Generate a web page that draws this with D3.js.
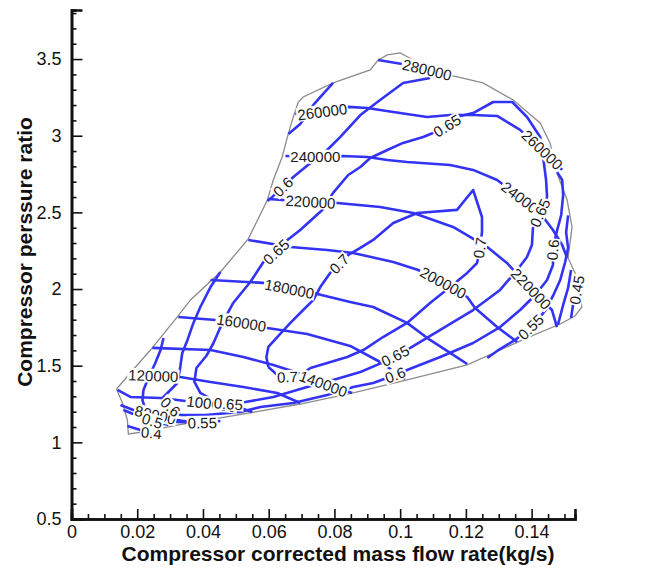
<!DOCTYPE html>
<html>
<head>
<meta charset="utf-8">
<script src="https://cdn.jsdelivr.net/npm/d3@7"></script>
<style>
body { margin: 0; background: #fff; }
svg text { font-family: "Liberation Sans", Arial, sans-serif; }
</style>
</head>
<body>
<svg id="chart" width="649" height="568"></svg>
<script>
// ---- data: [mass flow (kg/s), pressure ratio] ----
const boundary = [[0.0137,1.348],[0.0179,1.452],[0.0240,1.602],[0.0322,1.818],[0.0362,1.929],[0.0453,2.111],
  [0.0538,2.327],[0.0596,2.581],[0.0614,2.711],[0.0641,2.861],[0.0657,2.992],[0.0672,3.103],[0.0690,3.220],
  [0.0705,3.253],[0.0796,3.344],[0.0909,3.429],[0.0933,3.494],[0.0961,3.527],[0.1000,3.540],[0.1040,3.494],
  [0.1161,3.390],[0.1252,3.344],[0.1344,3.233],[0.1426,3.083],[0.1456,2.953],[0.1477,2.757],[0.1508,2.581],
  [0.1523,2.405],[0.1511,2.203],[0.1535,2.092],[0.1553,1.883],[0.1532,1.824],[0.1487,1.772],[0.1386,1.681],
  [0.1204,1.505],[0.1021,1.407],[0.0857,1.322],[0.0696,1.250],[0.0453,1.159],[0.0322,1.113],[0.0219,1.068],
  [0.0173,1.055],[0.0170,1.146],[0.0155,1.257],[0.0137,1.348]];

// speed lines (rpm)
const speed80 = [[0.0149,1.244],[0.0188,1.211],[0.0255,1.178],[0.0322,1.146],[0.0362,1.133]];
const speed100 = [[0.0140,1.342],[0.0179,1.296],[0.0271,1.289],[0.0347,1.270],[0.0426,1.250],[0.0505,1.231],[0.0550,1.198]];
const speed120 = [[0.0173,1.439],[0.0249,1.433],[0.0331,1.426],[0.0423,1.394],[0.0523,1.361],[0.0626,1.322],[0.0696,1.257]];
const speed140 = [[0.0246,1.616],[0.0423,1.602],[0.0523,1.557],[0.0614,1.505],[0.0681,1.459],[0.0766,1.381],[0.0854,1.322]];
const speed160 = [[0.0325,1.818],[0.0438,1.798],[0.0517,1.779],[0.0596,1.746],[0.0717,1.707],[0.0848,1.629],[0.0939,1.524],[0.1015,1.413]];
const speed180 = [[0.0423,2.059],[0.0584,2.040],[0.0663,2.000],[0.0748,1.968],[0.0848,1.916],[0.0918,1.883],[0.1021,1.779],
  [0.1091,1.668],[0.1152,1.583],[0.1204,1.511]];
const speed200 = [[0.0538,2.320],[0.0666,2.274],[0.0778,2.255],[0.0857,2.235],[0.0979,2.176],[0.1055,2.124],[0.1131,2.040],
  [0.1204,1.948],[0.1228,1.876],[0.1295,1.752],[0.1356,1.655]];
const speed220 = [[0.0599,2.587],[0.0727,2.568],[0.0809,2.561],[0.0939,2.535],[0.1040,2.496],[0.1161,2.405],[0.1265,2.274],
  [0.1325,2.170],[0.1398,2.000],[0.1462,1.863],[0.1477,1.752]];
const speed240 = [[0.0651,2.868],[0.0742,2.861],[0.0824,2.868],[0.0900,2.861],[0.0961,2.842],[0.1021,2.829],[0.1152,2.809],
  [0.1222,2.777],[0.1295,2.711],[0.1374,2.581],[0.1426,2.496],[0.1465,2.385],[0.1493,2.287],[0.1508,2.203]];
const speed260 = [[0.0681,3.142],[0.0763,3.155],[0.0842,3.188],[0.0900,3.181],[0.0979,3.155],[0.1082,3.122],[0.1152,3.135],
  [0.1222,3.135],[0.1295,3.129],[0.1365,3.038],[0.1432,2.907],[0.1493,2.777]];
const speed280 = [[0.0933,3.494],[0.1006,3.468],[0.1082,3.429],[0.1158,3.390]];

// efficiency contours
const eff040 = [[0.0170,1.107],[0.0210,1.081],[0.0243,1.061],[0.0277,1.068]];
const eff045 = [[0.1520,1.811],[0.1526,1.896],[0.1538,1.994],[0.1541,2.085]];
const eff050 = [[0.0158,1.211],[0.0195,1.178],[0.0246,1.139],[0.0295,1.113]];
const eff050r = [[0.1480,1.766],[0.1496,1.896],[0.1511,2.007],[0.1520,2.124]];
const eff055 = [[0.0280,1.681],[0.0271,1.602],[0.0255,1.518],[0.0234,1.420],[0.0219,1.342],[0.0216,1.276],[0.0225,1.211],
  [0.0271,1.159],[0.0322,1.133],[0.0398,1.126],[0.0453,1.139]];
const eff055r = [[0.1265,1.550],[0.1295,1.596],[0.1350,1.668],[0.1398,1.752],[0.1441,1.857],[0.1465,1.955],[0.1487,2.059],
  [0.1502,2.176],[0.1511,2.268],[0.1505,2.370],[0.1511,2.480]];
const eff055t = [[0.0796,3.344],[0.0763,3.266],[0.0736,3.201],[0.0696,3.077],[0.0660,3.011]];
const eff060t = [[0.1091,3.377],[0.1009,3.344],[0.0939,3.233],[0.0879,3.135],[0.0818,2.992],[0.0778,2.907],[0.0727,2.822],
  [0.0675,2.731],[0.0644,2.666],[0.0611,2.601],[0.0596,2.574]];
const eff060 = [[0.0453,2.111],[0.0423,2.013],[0.0392,1.883],[0.0371,1.779],[0.0353,1.668],[0.0337,1.583],[0.0331,1.492],
  [0.0322,1.387],[0.0277,1.289],[0.0301,1.231],[0.0331,1.178],[0.0407,1.178],[0.0514,1.198],[0.0575,1.231],[0.0675,1.257],
  [0.0778,1.309],[0.0857,1.361],[0.0918,1.387],[0.0985,1.439],[0.1021,1.472],[0.1122,1.557],[0.1222,1.648],[0.1304,1.752],
  [0.1365,1.863],[0.1411,1.961],[0.1447,2.059],[0.1465,2.157],[0.1465,2.255],[0.1474,2.353],[0.1490,2.483],[0.1496,2.614],
  [0.1493,2.711],[0.1477,2.764]];
const eff065 = [[0.0429,1.276],[0.0392,1.322],[0.0374,1.394],[0.0380,1.485],[0.0410,1.563],[0.0432,1.648],[0.0456,1.766],
  [0.0492,1.909],[0.0544,2.046],[0.0584,2.176],[0.0623,2.242],[0.0657,2.320],[0.0696,2.385],[0.0763,2.516],[0.0796,2.627],
  [0.0842,2.744],[0.0879,2.796],[0.0909,2.855],[0.0961,2.907],[0.1009,2.953],[0.1070,2.992],[0.1100,3.018],[0.1143,3.064],
  [0.1183,3.129],[0.1222,3.148],[0.1283,3.220],[0.1341,3.220],[0.1386,3.122],[0.1426,2.992],[0.1435,2.861],[0.1444,2.711],
  [0.1447,2.601],[0.1426,2.496],[0.1404,2.398],[0.1401,2.287],[0.1386,2.209],[0.1356,2.124],[0.1304,1.994],[0.1222,1.863],
  [0.1122,1.733],[0.1031,1.616],[0.0985,1.563],[0.0930,1.505],[0.0879,1.459],[0.0796,1.407],[0.0717,1.361],[0.0614,1.296],
  [0.0529,1.263],[0.0477,1.250],[0.0429,1.276]];
const eff070 = [[0.0599,1.492],[0.0623,1.446],[0.0657,1.426],[0.0705,1.452],[0.0727,1.485],[0.0778,1.518],[0.0839,1.557],
  [0.0888,1.602],[0.0948,1.687],[0.1021,1.779],[0.1091,1.909],[0.1152,2.013],[0.1204,2.105],[0.1234,2.170],[0.1243,2.268],
  [0.1249,2.372],[0.1249,2.470],[0.1222,2.646],[0.1173,2.516],[0.1052,2.496],[0.0979,2.431],[0.0918,2.320],[0.0879,2.268],
  [0.0842,2.222],[0.0815,2.163],[0.0787,2.105],[0.0757,2.013],[0.0736,1.929],[0.0705,1.863],[0.0666,1.779],[0.0626,1.687],
  [0.0599,1.622],[0.0593,1.557],[0.0599,1.492]];

// contour labels: [line, vertex index, text]
const speedLabels = [[speed80, 2, "80000"], [speed100, 4, "100000"], [speed120, 1, "120000"], [speed140, 5, "140000"],
  [speed160, 2, "160000"], [speed180, 2, "180000"], [speed200, 6, "200000"], [speed220, 1, "220000"], [speed220, 8, "220000"],
  [speed240, 1, "240000"], [speed240, 9, "240000"], [speed260, 1, "260000"], [speed260, 10, "260000"], [speed280, 2, "280000"]];
const effLabels = [[eff040, 2, "0.4"], [eff045, 2, "0.45"], [eff050, 2, "0.5"], [eff055, 9, "0.55"], [eff055r, 3, "0.55"],
  [eff060t, 8, "0.6"], [eff060, 9, "0.6"], [eff060, 18, "0.6"], [eff060, 27, "0.6"], [eff065, 10, "0.65"], [eff065, 22, "0.65"],
  [eff065, 32, "0.65"], [eff065, 41, "0.65"], [eff065, 48, "0.65"], [eff070, 2, "0.7"], [eff070, 14, "0.7"], [eff070, 24, "0.7"]];

const xTicks = d3.range(0, 0.1401, 0.02);
const yTicks = d3.range(0.5, 3.501, 0.5);

// ---- chart ----
const svg = d3.select("#chart");
const x = d3.scaleLinear().domain([0, 0.1532]).range([71.5, 575]);
const y = d3.scaleLinear().domain([0.5, 3.82]).range([519, 10]);

const line = d3.line().x(d => x(d[0])).y(d => y(d[1]));

svg.append("path")
    .datum(boundary)
    .attr("d", line)
    .attr("fill", "none")
    .attr("stroke", "#8c8c8c")
    .attr("stroke-width", 1.3);

const allLines = [speed80, speed100, speed120, speed140, speed160, speed180, speed200, speed220, speed240, speed260, speed280,
  eff040, eff045, eff050, eff050r, eff055, eff055r, eff055t, eff060t, eff060, eff065, eff070];

svg.append("g")
    .selectAll("path")
    .data(allLines)
    .join("path")
    .attr("d", line)
    .attr("fill", "none")
    .attr("stroke", "#3333f4")
    .attr("stroke-width", 2.6)
    .attr("stroke-linejoin", "round");

// label sits on a vertex, rotated along the line and kept readable
function addLabel(g, pts, i, text){
    const a = pts[Math.max(i - 1, 0)], b = pts[Math.min(i + 1, pts.length - 1)];
    let angle = Math.atan2(y(b[1]) - y(a[1]), x(b[0]) - x(a[0])) * 180 / Math.PI;
    if(angle > 90) angle -= 180;
    if(angle < -90) angle += 180;
    const lg = g.append("g")
        .attr("transform", "translate(" + x(pts[i][0]) + "," + y(pts[i][1]) + ") rotate(" + angle + ")");
    const box = lg.append("rect").attr("fill", "#fff");
    const t = lg.append("text")
        .attr("text-anchor", "middle")
        .attr("dy", "0.35em")
        .attr("font-size", 15)
        .attr("fill", "#1a1a1a")
        .text(text);
    const bb = t.node().getBBox();
    box.attr("x", bb.x - 1).attr("y", bb.y + 1.5).attr("width", bb.width + 2).attr("height", bb.height - 3);
}

const labelGroup = svg.append("g");
speedLabels.forEach(d => addLabel(labelGroup, d[0], d[1], d[2]));
effLabels.forEach(d => addLabel(labelGroup, d[0], d[1], d[2]));

// ---- axes (ticks point inward) ----
svg.append("g")
    .attr("transform", "translate(0,519)")
    .call(d3.axisBottom(x).tickValues(xTicks).tickSize(-10).tickPadding(6).tickFormat(d3.format("~g")));
svg.append("g")
    .attr("transform", "translate(0,519)")
    .call(d3.axisBottom(x).tickValues(d3.range(0.005, 0.1501, 0.005).filter(v => Math.abs(v / 0.02 - Math.round(v / 0.02)) > 1e-6))
        .tickSize(-5).tickFormat(""));
svg.append("g")
    .attr("transform", "translate(71.5,0)")
    .call(d3.axisLeft(y).tickValues(yTicks).tickSize(-11).tickPadding(10).tickFormat(d3.format("~g")));
svg.append("g")
    .attr("transform", "translate(71.5,0)")
    .call(d3.axisLeft(y).tickValues(d3.range(0.6, 3.801, 0.1).filter(v => Math.abs(v * 2 - Math.round(v * 2)) > 1e-6))
        .tickSize(-5).tickFormat(""));

svg.selectAll(".domain").attr("stroke-width", 2.6).attr("stroke", "#111");
svg.selectAll(".tick line").attr("stroke", "#111").attr("stroke-width", 1.6);
svg.selectAll(".tick text").attr("font-size", 18).attr("fill", "#111");

svg.append("text")
    .attr("x", 338)
    .attr("y", 561)
    .attr("text-anchor", "middle")
    .attr("font-size", 21)
    .attr("font-weight", "bold")
    .attr("fill", "#111")
    .text("Compressor corrected mass flow rate(kg/s)");

svg.append("text")
    .attr("transform", "translate(32,252) rotate(-90)")
    .attr("text-anchor", "middle")
    .attr("font-size", 21)
    .attr("font-weight", "bold")
    .attr("fill", "#111")
    .text("Compressor perssure ratio");
</script>
</body>
</html>
